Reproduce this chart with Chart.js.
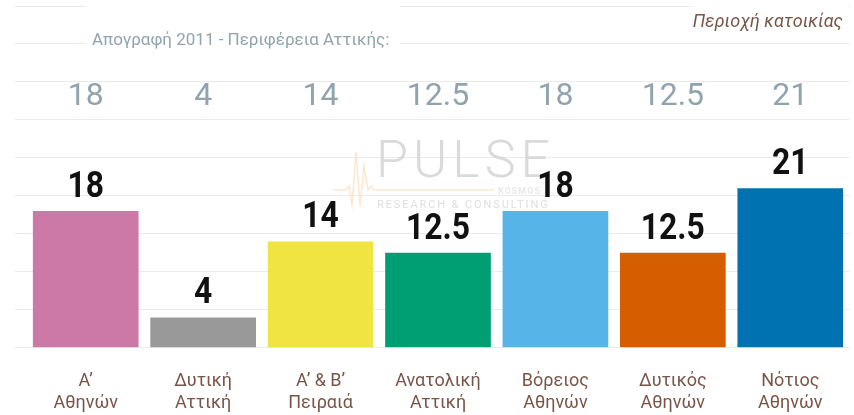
<!DOCTYPE html>
<html>
<head>
<meta charset="utf-8">
<script src="https://cdn.jsdelivr.net/npm/chart.js@4"></script>
<style>
html,body{margin:0;padding:0;background:#fff;}
#wrap{width:854px;height:415px;position:relative;}
</style>
</head>
<body>
<div id="wrap"><canvas id="c" width="854" height="415"></canvas></div>
<script>
// ---- data ----
const categories = [
  ['Α’', 'Αθηνών'],
  ['Δυτική', 'Αττική'],
  ['Α’ & Β’', 'Πειραιά'],
  ['Ανατολική', 'Αττική'],
  ['Βόρειος', 'Αθηνών'],
  ['Δυτικός', 'Αθηνών'],
  ['Νότιος', 'Αθηνών']
];
const values = [18, 4, 14, 12.5, 18, 12.5, 21];
const censusValues = [18, 4, 14, 12.5, 18, 12.5, 21];
const barColors = ['#cc79a7', '#999999', '#f0e442', '#009e73', '#56b4e9', '#d55e00', '#0072b2'];
const yMin = 0;
const yMax = 45;
const yStep = 5;
const titleText = 'Περιοχή κατοικίας';
const subtitleText = 'Απογραφή 2011 - Περιφέρεια Αττικής:';

// ---- plugins ----
const decorPlugin = {
  id: 'decor',
  beforeDatasetsDraw(chart) {
    const ctx = chart.ctx;
    ctx.save();
    // white boxes behind header texts
    ctx.fillStyle = '#ffffff';
    ctx.fillRect(86, 0, 314, 56);
    ctx.fillRect(692, 0, 156, 34);
    // subtitle
    ctx.fillStyle = '#90a4ae';
    ctx.font = '17px Roboto';
    ctx.textAlign = 'left';
    ctx.textBaseline = 'alphabetic';
    ctx.fillText(subtitleText, 92, 45);
    // title
    ctx.fillStyle = '#795548';
    ctx.font = 'italic 18px Roboto';
    ctx.textAlign = 'right';
    ctx.fillText(titleText, 843, 27);
    // census row
    const xs = chart.scales.x;
    ctx.fillStyle = '#90a4ae';
    ctx.font = '32px Roboto';
    ctx.textAlign = 'center';
    censusValues.forEach((v, i) => {
      ctx.fillText(String(v), xs.getPixelForValue(i), 105);
    });
    // watermark
    ctx.globalAlpha = 0.85;
    ctx.strokeStyle = '#fde3c6';
    ctx.lineWidth = 1.5;
    ctx.beginPath();
    const hb = [[333,190],[346,190],[349,186],[352,205],[356,152],[360,206],[364,166],[368,190],[371,186],[374,190],[494,190]];
    hb.forEach((p, i) => i ? ctx.lineTo(p[0], p[1]) : ctx.moveTo(p[0], p[1]));
    ctx.stroke();
    ctx.fillStyle = '#d4d4d4';
    ctx.font = '300 52px Roboto';
    ctx.textAlign = 'left';
    ctx.letterSpacing = '5px';
    ctx.fillText('PULSE', 376, 177);
    ctx.font = '11px Roboto';
    ctx.letterSpacing = '1.9px';
    ctx.fillStyle = '#d8d8d8';
    ctx.fillText('RESEARCH & CONSULTING', 377, 208);
    ctx.font = 'bold 9px Roboto';
    ctx.letterSpacing = '1px';
    ctx.fillStyle = '#e4e4e4';
    ctx.fillText('KOSMOS', 498, 194);
    ctx.restore();
  },
  afterDatasetsDraw(chart) {
    const ctx = chart.ctx;
    const meta = chart.getDatasetMeta(0);
    ctx.save();
    ctx.fillStyle = '#111111';
    ctx.font = 'bold 37px Roboto';
    ctx.textAlign = 'center';
    ctx.textBaseline = 'alphabetic';
    meta.data.forEach((bar, i) => {
      ctx.save();
      ctx.translate(bar.x, bar.y - 14);
      ctx.scale(0.86, 1);
      ctx.fillText(String(values[i]), 0, 0);
      ctx.restore();
    });
    ctx.restore();
  }
};

new Chart(document.getElementById('c'), {
  type: 'bar',
  data: {
    labels: categories,
    datasets: [{
      data: values,
      backgroundColor: barColors,
      borderWidth: 0,
      categoryPercentage: 0.9,
      barPercentage: 1.0
    }]
  },
  options: {
    responsive: false,
    animation: false,
    devicePixelRatio: 1,
    layout: { padding: { top: 6, left: 15, right: 5, bottom: -22 } },
    plugins: {
      legend: { display: false },
      title: { display: false },
      tooltip: { enabled: false }
    },
    scales: {
      x: {
        grid: { display: false, drawTicks: false },
        border: { display: false },
        ticks: {
          color: '#795548',
          font: { family: 'Roboto', size: 18 },
          padding: 23,
          maxRotation: 0,
          autoSkip: false
        }
      },
      y: {
        min: yMin,
        max: yMax,
        grid: { color: '#ebebeb', lineWidth: 1, drawTicks: true, tickLength: 12 },
        border: { display: false },
        ticks: { display: false, stepSize: yStep }
      }
    }
  },
  plugins: [decorPlugin]
});
</script>
</body>
</html>
